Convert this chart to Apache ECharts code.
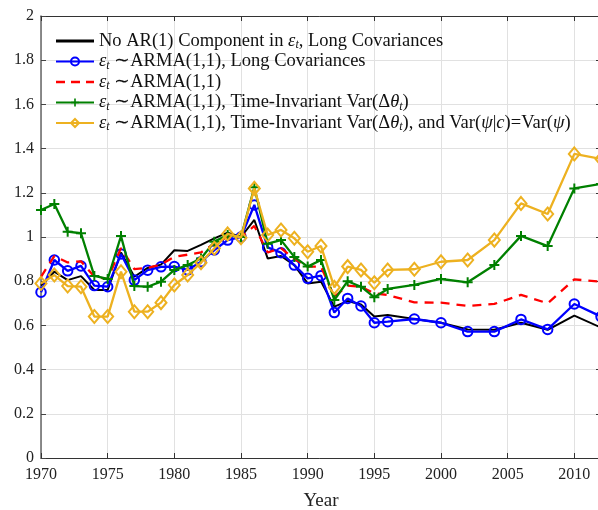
<!DOCTYPE html>
<html><head><meta charset="utf-8">
<script src="https://cdn.jsdelivr.net/npm/echarts@6/dist/echarts.min.js"></script>
<style>html,body{margin:0;padding:0;background:#fff;}#c{width:598px;height:510px;}</style>
</head><body><div id="c"></div>
<script>
const years = [1970,1971,1972,1973,1974,1975,1976,1977,1978,1979,1980,1981,1982,1983,1984,1985,1986,1987,1988,1989,1990,1991,1992,1993,1994,1995,1996,1998,2000,2002,2004,2006,2008,2010,2012];
const noAR = [0.78,0.843,0.805,0.823,0.76,0.76,0.93,0.82,0.86,0.875,0.94,0.937,0.964,0.994,1.02,1.0,1.077,0.903,0.914,0.873,0.79,0.798,0.685,0.71,0.695,0.64,0.647,0.629,0.612,0.582,0.58,0.612,0.58,0.644,0.59];
const armaLong = [0.75,0.896,0.847,0.869,0.78,0.775,0.923,0.805,0.85,0.865,0.866,0.851,0.888,0.941,0.986,1.0,1.145,0.953,0.929,0.873,0.813,0.825,0.658,0.722,0.688,0.612,0.617,0.629,0.612,0.572,0.572,0.627,0.582,0.697,0.64];
const arma = [0.82,0.914,0.885,0.89,0.82,0.81,0.95,0.855,0.86,0.875,0.91,0.92,0.93,0.97,1.0,1.0,1.05,0.93,0.95,0.90,0.866,0.866,0.73,0.78,0.775,0.745,0.738,0.704,0.703,0.688,0.697,0.738,0.70,0.808,0.798];
const armaTI = [1.122,1.149,1.024,1.017,0.824,0.81,1.004,0.778,0.775,0.798,0.851,0.873,0.903,0.979,1.009,1.0,1.225,0.97,0.986,0.91,0.866,0.896,0.715,0.80,0.775,0.727,0.765,0.783,0.81,0.795,0.873,1.005,0.959,1.22,1.24];
const armaTIPsi = [0.79,0.828,0.778,0.775,0.64,0.64,0.843,0.662,0.662,0.703,0.783,0.828,0.884,0.949,1.014,0.997,1.22,1.009,1.032,0.994,0.933,0.959,0.772,0.866,0.851,0.793,0.851,0.854,0.888,0.896,0.986,1.152,1.104,1.376,1.353];
const seriesNames = [
  'No AR(1) Component in εt, Long Covariances',
  'εt ∼ARMA(1,1), Long Covariances',
  'εt ∼ARMA(1,1)',
  'εt ∼ARMA(1,1), Time-Invariant Var(Δθt)',
  'εt ∼ARMA(1,1), Time-Invariant Var(Δθt), and Var(ψ|c)=Var(ψ)'
];
const xTickLabels = ['1970','1975','1980','1985','1990','1995','2000','2005','2010'];
const yTickLabels = ['0','0.2','0.4','0.6','0.8','1','1.2','1.4','1.6','1.8','2'];
const xTitle = 'Year';

const pairs = arr => years.map((y,i)=>[y,arr[i]]);
const serif = 'Liberation Serif';
function richName(n){
  return n.replace(/εt/g,'{i|ε}{s|t}')
          .replace(/θt/g,'{i|θ}{s|t}')
          .replace(/ψ/g,'{i|ψ}')
          .replace(/\|c\)/g,'|{i|c})');
}
const plusPath = 'path://M4,0H6V4H10V6H6V10H4V6H0V4H4Z';
const solidIcon = 'path://M0,0H38V2.8H0Z';
const dashIcon = 'path://M0,0H9V2.6H0Z M15,0H24V2.6H15Z M30,0H38V2.6H30Z';
const chart = echarts.init(document.getElementById('c'), null, {renderer:'canvas'});
const colors = ['#000000','#0000ff','#ff0000','#008000','#EDB120'];
const dataSets = [noAR, armaLong, arma, armaTI, armaTIPsi];
const symbols = ['none','circle','none',plusPath,'diamond'];
const symSizes = [0,9.5,0,10,[11,13]];
const series = dataSets.map((d,k)=>({
  name: seriesNames[k], type:'line', data: pairs(d),
  symbol: symbols[k], symbolSize: symSizes[k], showSymbol: symbols[k] !== 'none',
  lineStyle:{color:colors[k], width: k===0?2:2.3, type: k===2?[9,7]:'solid'},
  itemStyle: (k===1||k===4) ? {color:'rgba(255,255,255,0)', borderColor:colors[k], borderWidth:2}
            : {color:colors[k], borderWidth:0},
  z: 2+k, animation:false, clip:true
}));
const legendData = seriesNames.map((n,k)=>{
  if (k===0) return {name:n, icon:solidIcon, itemStyle:{color:colors[0], borderWidth:0}};
  if (k===2) return {name:n, icon:dashIcon, itemStyle:{color:colors[2], borderWidth:0}};
  return {name:n};
});
chart.setOption({
  animation:false,
  backgroundColor:'#fff',
  grid:{left:41, top:16, width:560, height:442, outerBoundsMode:'none', containLabel:false},
  legend:{
    orient:'vertical', left:55, top:31, padding:0, itemGap:0.5, itemWidth:38, itemHeight:10,
    data: legendData,
    formatter: n => richName(n),
    textStyle:{fontFamily:serif, fontSize:18.5, color:'#111', lineHeight:18,
      rich:{i:{fontFamily:serif, fontSize:18.5, fontStyle:'italic', color:'#111', lineHeight:18},
            s:{fontFamily:serif, fontSize:12, fontStyle:'italic', color:'#111', lineHeight:18, padding:[8,0,0,0]}}}
  },
  xAxis:[{
    type:'value', min:1970, max:2012, interval:5,
    axisLine:{show:true, onZero:false, lineStyle:{color:'#333', width:1}},
    axisTick:{show:true, inside:true, length:5, lineStyle:{color:'#333'}},
    axisLabel:{fontFamily:serif, fontSize:16, color:'#222', margin:9,
      formatter: v => xTickLabels[(v-1970)/5] || ''},
    splitLine:{show:true, lineStyle:{color:'#e1e1e1', width:1}},
    name:xTitle, nameLocation:'middle', nameGap:34,
    nameTextStyle:{fontFamily:serif, fontSize:19, color:'#222'}
  },{
    type:'value', position:'top', min:1970, max:2012, interval:5,
    axisLine:{show:true, onZero:false, lineStyle:{color:'#333', width:1}},
    axisTick:{show:true, inside:true, length:5, lineStyle:{color:'#333'}},
    axisLabel:{show:false}, splitLine:{show:false}
  }],
  yAxis:[{
    type:'value', min:0, max:2, interval:0.2,
    axisLine:{show:true, onZero:false, lineStyle:{color:'#666', width:1.5}},
    axisTick:{show:true, inside:true, length:5, lineStyle:{color:'#444'}},
    axisLabel:{fontFamily:serif, fontSize:16, color:'#222', margin:7,
      formatter: v => yTickLabels[Math.round(v/0.2)]},
    splitLine:{show:true, lineStyle:{color:'#e1e1e1', width:1}}
  },{
    type:'value', position:'right', min:0, max:2, interval:0.2,
    axisLine:{show:true, onZero:false, lineStyle:{color:'#333', width:1}},
    axisTick:{show:true, inside:true, length:5, lineStyle:{color:'#333'}},
    axisLabel:{show:false}, splitLine:{show:false}
  }],
  series: series
});
</script></body></html>
